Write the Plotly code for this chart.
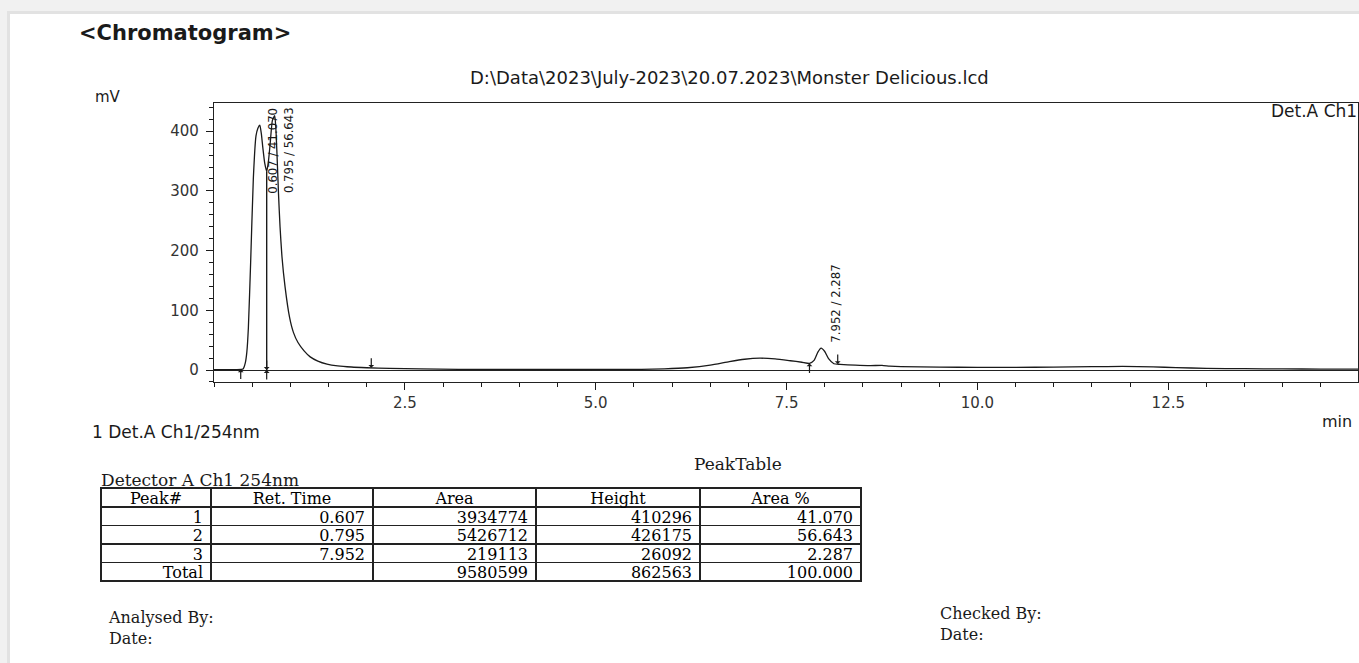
import numpy as np
import plotly.graph_objects as go

# ---------------- data ----------------
time_min = [0.00, 0.20, 0.30, 0.36, 0.38, 0.41, 0.43, 0.45, 0.48, 0.515, 0.55, 0.575,
            0.600, 0.620, 0.640, 0.665, 0.690, 0.710, 0.735, 0.765, 0.795, 0.810,
            0.825, 0.845, 0.865, 0.890, 0.930, 0.990, 1.04, 1.10, 1.18, 1.26, 1.36,
            1.48, 1.62, 1.80, 2.00, 2.30, 2.70, 3.20, 4.00, 5.00, 5.60, 5.90, 6.20,
            6.50, 6.75, 6.95, 7.15, 7.35, 7.55, 7.70, 7.80, 7.86, 7.91, 7.952, 8.00,
            8.05, 8.12, 8.20, 8.40, 8.60, 8.75, 8.85, 9.00, 9.50, 10.00, 10.50,
            11.00, 11.50, 11.90, 12.30, 12.60, 13.00, 13.50, 14.00, 14.50, 15.00]
signal_mv = [0.5, 0.5, 0.6, 0.9, 1.5, 12, 30, 70, 180, 320, 392, 405,
             410, 396, 372, 346, 333, 346, 378, 418, 426, 405,
             362, 295, 240, 190, 140, 88, 63, 46, 32, 22, 15,
             10, 7, 5, 3.8, 2.6, 1.8, 1.2, 0.9, 0.9, 1.2, 2.0, 3.8,
             8, 14, 18, 19.8, 18.5, 15.5, 13, 11, 16, 30, 36.5, 31,
             19, 10.5, 9.5, 8, 7.3, 7.8, 6.5, 5.5, 4.8, 4.5, 4.5,
             4.8, 5.5, 6, 5.2, 4, 2.8, 2.2, 1.8, 1.6, 1.5]

peak_no = ["1", "2", "3"]
ret_time = [0.607, 0.795, 7.952]
peak_area = [3934774, 5426712, 219113]
peak_height = [410296, 426175, 26092]
area_pct = [41.070, 56.643, 2.287]
total_area = 9580599
total_height = 862563
total_pct = 100.000

split_marks = [0.69]          # drop line between peaks 1 and 2
start_marks = [0.35, 7.80]
end_marks = [2.06, 8.17]

x_tick_vals = [2.5, 5.0, 7.5, 10.0, 12.5]
table_header = ["Peak#", "Ret. Time", "Area", "Height", "Area %"]

# ---------------- layout helpers ----------------
W, H = 1359, 663
def px(x):
    return x / W
def py(y):
    return 1 - y / H

SANS = "DejaVu Sans, Liberation Sans, Arial"
SERIF = "DejaVu Serif, Liberation Serif, Times New Roman"
NARROW = "Liberation Sans Narrow, DejaVu Sans Condensed, Liberation Sans"
INK = "#1a1a1a"

Y_MIN, Y_MAX = -20.1, 447.2

fig = go.Figure()

# chromatogram
fig.add_trace(go.Scatter(x=time_min, y=signal_mv, mode="lines",
                         line=dict(color=INK, width=1.3, shape="spline", smoothing=0.5),
                         hoverinfo="x+y", showlegend=False))

# drop line(s)
for t in split_marks:
    v = float(np.interp(t, time_min, signal_mv))
    fig.add_trace(go.Scatter(x=[t, t], y=[0, v], mode="lines",
                             line=dict(color=INK, width=1.4), showlegend=False,
                             hoverinfo="skip"))

# table: grid (lines) and text drawn as two table layers so the text sits
# centred inside the rows
cells = [
    peak_no + ["Total"],
    [f"{v:.3f}" for v in ret_time] + [""],
    [str(v) for v in peak_area] + [str(total_area)],
    [str(v) for v in peak_height] + [str(total_height)],
    [f"{v:.3f}" for v in area_pct] + [f"{total_pct:.3f}"],
]
col_w = [110, 162, 163, 164, 161]
T_TOP, HDR_H, ROW_H = 488, 19, 18.5
T_BOT = T_TOP + HDR_H + ROW_H * len(cells[0])
TFONT = dict(family=SERIF, size=16, color="#000")
fig.add_trace(go.Table(
    domain=dict(x=[px(101), px(862)], y=[py(T_BOT + 4), py(T_TOP)]),
    columnwidth=col_w,
    header=dict(values=[""] * len(table_header), height=HDR_H,
                line=dict(color="#222", width=1.6), fill_color="white"),
    cells=dict(values=[[""] * len(c) for c in cells], height=ROW_H,
               line=dict(color="#222", width=1.6), fill_color="white"),
))
TEXT_UP = 4.5
fig.add_trace(go.Table(
    domain=dict(x=[px(101), px(862)], y=[py(T_BOT + 4 - TEXT_UP), py(T_TOP - TEXT_UP)]),
    columnwidth=col_w,
    header=dict(values=table_header, align="center", height=HDR_H, font=TFONT,
                line=dict(width=0, color="rgba(0,0,0,0)"), fill_color="rgba(0,0,0,0)"),
    cells=dict(values=cells, align="right", height=ROW_H, font=TFONT,
               line=dict(width=0, color="rgba(0,0,0,0)"), fill_color="rgba(0,0,0,0)"),
))

annotations = []

def txt(text, x, y, size, family=SANS, xanchor="left", color=INK, **kw):
    annotations.append(dict(text=text, x=px(x), y=py(y), xref="paper", yref="paper",
                            xanchor=xanchor, yanchor="middle", showarrow=False,
                            borderpad=0,
                            font=dict(family=family, size=size, color=color), **kw))

txt("<b>&lt;Chromatogram&gt;</b>", 78, 33, 21)
txt(r"D:\Data\2023\July-2023\20.07.2023\Monster Delicious.lcd", 729, 77, 18, xanchor="center")
txt("mV", 94, 97, 15)
txt("Det.A Ch1", 1358, 111, 17, xanchor="right")
txt("min", 1321, 421, 16)
txt("1 Det.A Ch1/254nm", 91, 432, 17)
txt("PeakTable", 738, 464, 17, family=SERIF, xanchor="center")
txt("Detector A Ch1 254nm", 100, 480, 17, family=SERIF)
txt("Analysed By:<br>Date:", 107, 628, 16, family=SERIF, align="left")
txt("Checked By:<br>Date:", 939, 624, 16, family=SERIF, align="left")

# peak labels
label_len_mv = 130
label_shift = [12, 14, 15]
for rt, pct, sh in zip(ret_time, area_pct, label_shift):
    apex = float(np.interp(rt, time_min, signal_mv))
    if apex + 6 + label_len_mv > Y_MAX:
        yv, ya = Y_MAX - 4, "top"
    else:
        yv, ya = apex + 6, "bottom"
    annotations.append(dict(text=f"{rt:.3f} / {pct:.3f}", x=rt, y=yv, xref="x", yref="y",
                            xanchor="center", yanchor=ya, textangle=-90, xshift=sh,
                            showarrow=False, font=dict(family=NARROW, size=13, color=INK)))

# integration markers
def arrow(t, level, up):
    annotations.append(dict(text="", x=t, y=level, xref="x", yref="y", ax=0,
                            ay=11 if up else -11, showarrow=True, arrowhead=1,
                            arrowsize=0.8, arrowwidth=1.2, arrowcolor=INK, standoff=0))

for t in start_marks:
    arrow(t, float(np.interp(t, time_min, signal_mv)), True)
for t in end_marks:
    arrow(t, float(np.interp(t, time_min, signal_mv)), False)
for t in split_marks:
    arrow(t, 0, True)
    arrow(t, 0, False)

shapes = [
    dict(type="rect", xref="paper", yref="paper", x0=px(7), x1=1.0, y0=0, y1=py(11),
         fillcolor="#e2e2e2", line=dict(width=0), layer="below"),
    dict(type="rect", xref="paper", yref="paper", x0=px(10), x1=1.0, y0=0, y1=py(14),
         fillcolor="white", line=dict(width=0), layer="below"),
]

fig.update_layout(
    width=W, height=H, autosize=False,
    margin=dict(l=0, r=0, t=0, b=0),
    paper_bgcolor="#f1f1f1", plot_bgcolor="white",
    showlegend=False,
    annotations=annotations, shapes=shapes,
    xaxis=dict(domain=[px(214), px(1358)], range=[0, 14.985],
               tickmode="array", tickvals=x_tick_vals,
               ticktext=[f"{v:.1f}" for v in x_tick_vals],
               ticks="outside", ticklen=7, tickwidth=1.2, tickcolor=INK,
               minor=dict(dtick=0.5, tick0=0, ticks="outside", ticklen=4,
                          tickwidth=1.1, tickcolor=INK, showgrid=False),
               showline=True, linecolor="#222", linewidth=1.3, mirror=True,
               showgrid=False, zeroline=False,
               tickfont=dict(family=SANS, size=15, color="#333")),
    yaxis=dict(domain=[py(382), py(103)], range=[Y_MIN, Y_MAX],
               tickmode="linear", tick0=0, dtick=100,
               ticks="outside", ticklen=7, tickwidth=1.2, tickcolor=INK,
               minor=dict(dtick=20, tick0=0, ticks="outside", ticklen=4,
                          tickwidth=1.1, tickcolor=INK, showgrid=False),
               showline=True, linecolor="#222", linewidth=1.3, mirror=True,
               showgrid=False, zeroline=True, zerolinecolor="#222", zerolinewidth=1,
               ticklabelstandoff=4,
               tickfont=dict(family=SANS, size=15, color="#333")),
)

fig.write_html("out.html", config={"displayModeBar": False},
               post_script="document.body.style.margin='0';document.body.style.overflow='hidden';")
